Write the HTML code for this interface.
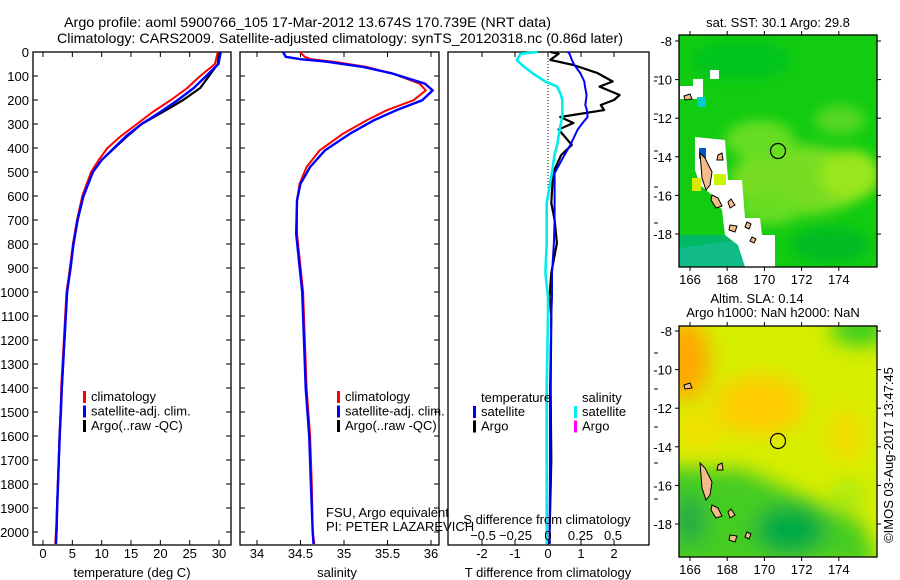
<!DOCTYPE html>
<html><head><meta charset="utf-8"><style>
body{margin:0;background:#fff}
svg{display:block;font-family:"Liberation Sans",Arial,sans-serif}
text{font-size:13px;fill:#000}
</style></head><body>
<svg id="c" width="900" height="580" viewBox="0 0 900 580">
<defs>
<filter id="bl" x="-20%" y="-20%" width="140%" height="140%"><feGaussianBlur stdDeviation="6"/></filter>
<filter id="bl2" x="-20%" y="-20%" width="140%" height="140%"><feGaussianBlur stdDeviation="10"/></filter>
<clipPath id="m1"><rect x="679" y="35" width="198" height="232"/></clipPath>
<clipPath id="m2"><rect x="679" y="326" width="198" height="231"/></clipPath>
</defs>
<text x="64" y="27" textLength="487" lengthAdjust="spacingAndGlyphs" style="font-size:14px">Argo profile: aoml 5900766_105 17-Mar-2012 13.674S 170.739E (NRT data)</text>
<text x="57" y="43" textLength="566" lengthAdjust="spacingAndGlyphs" style="font-size:14px">Climatology: CARS2009. Satellite-adjusted climatology: synTS_20120318.nc (0.86d later)</text>
<g id="p1"></g>
<g id="p2"></g>
<g id="p3"></g>

<g>
<text x="778" y="27" text-anchor="middle">sat. SST: 30.1  Argo: 29.8</text>
<g clip-path="url(#m1)">
<rect x="679" y="35" width="198" height="232" fill="#11cc11"/>
<g filter="url(#bl)">
<ellipse cx="800" cy="180" rx="70" ry="35" fill="#77dd22"/>
<ellipse cx="850" cy="175" rx="30" ry="25" fill="#99e61a"/>
<ellipse cx="760" cy="140" rx="35" ry="20" fill="#66dd22"/>
<ellipse cx="840" cy="120" rx="25" ry="15" fill="#55d822"/>
<ellipse cx="770" cy="210" rx="30" ry="15" fill="#66dd22"/>
<ellipse cx="740" cy="60" rx="50" ry="20" fill="#00c41a"/>
<ellipse cx="830" cy="245" rx="40" ry="18" fill="#00bb22"/>
</g>
<rect x="679" y="235" width="70" height="32" fill="#00b866"/>
<polygon points="679,248 740,240 760,267 679,267" fill="#11bb88"/>
<g fill="#fff">
<rect x="710" y="70" width="9" height="9"/><rect x="693" y="79" width="10" height="20"/><rect x="680" y="86" width="14" height="13"/>
<polygon points="695,137 725,140 728,180 742,180 745,218 760,218 762,235 775,235 775,267 745,267 738,245 725,235 722,210 712,195 700,185 695,170"/>
</g>
<rect x="697" y="97" width="9" height="10" fill="#00cccc"/>
<rect x="699" y="148" width="7" height="11" fill="#0055cc"/>
<rect x="692" y="178" width="9" height="13" fill="#dde800"/>
<rect x="714" y="174" width="12" height="11" fill="#ccf500"/>
<g fill="#f5bb88" stroke="#000" stroke-width="1">
<polygon points="700,153 705,158 712,172 710,185 706,190 702,178"/>
<polygon points="712,195 718,198 722,206 716,208 711,200"/>
<polygon points="728,202 731,199 735,205 730,208"/>
<polygon points="730,225 737,226 735,232 729,230"/>
<polygon points="747,222 751,224 749,229 745,227"/>
<polygon points="752,237 756,239 754,243 750,241"/>
<polygon points="718,155 722,153 723,160 717,160"/>
<polygon points="684,96 690,94 692,99 685,100"/>
</g>
<circle cx="778" cy="151" r="7.5" fill="none" stroke="#000" stroke-width="1.2"/>
</g>
<rect x="679" y="35" width="198" height="232" fill="none" stroke="#000" stroke-width="1.3"/>
<g id="m1ax"></g>
</g>

<g>
<text x="757" y="303" text-anchor="middle">Altim. SLA: 0.14</text>
<text x="773" y="317" text-anchor="middle">Argo h1000: NaN h2000: NaN</text>
<g clip-path="url(#m2)">
<rect x="679" y="326" width="198" height="231" fill="#d6ee00"/>
<g filter="url(#bl2)">
<ellipse cx="685" cy="360" rx="25" ry="40" fill="#ffa800"/>
<ellipse cx="760" cy="405" rx="45" ry="30" fill="#ffcc00"/>
<ellipse cx="845" cy="435" rx="20" ry="28" fill="#f0dd00"/>
<ellipse cx="700" cy="430" rx="25" ry="20" fill="#f0e000"/>
<ellipse cx="860" cy="330" rx="30" ry="15" fill="#33cc22"/>
<polygon points="650,465 745,470 800,495 860,520 880,565 650,575" fill="#44cc22"/>
<ellipse cx="790" cy="530" rx="35" ry="25" fill="#00aa44"/>
<ellipse cx="690" cy="520" rx="15" ry="25" fill="#22aa44"/>
<ellipse cx="848" cy="495" rx="18" ry="14" fill="#aaea11"/>
</g>
<g fill="#f5bb88" stroke="#000" stroke-width="1">
<polygon points="700,463 705,468 712,482 710,495 706,500 702,488"/>
<polygon points="712,505 718,508 722,516 716,518 711,510"/>
<polygon points="728,512 731,509 735,515 730,518"/>
<polygon points="730,535 737,536 735,542 729,540"/>
<polygon points="747,532 751,534 749,539 745,537"/>
<polygon points="718,465 722,463 723,470 717,470"/>
<polygon points="684,385 690,383 692,388 685,389"/>
</g>
<circle cx="778" cy="441" r="7.5" fill="none" stroke="#000" stroke-width="1.2"/>
</g>
<rect x="679" y="326" width="198" height="231" fill="none" stroke="#000" stroke-width="1.3"/>
<g id="m2ax"></g>
</g>
<text transform="translate(893,455) rotate(-90)" text-anchor="middle">©IMOS 03-Aug-2017 13:47:45</text>
</svg>
<script>
// ---- data ----
const depthT = [0,50,100,150,200,250,300,350,400,450,500,600,700,800,900,1000,1400,1500,1600,1700,1800,1900,2000,2050];
const tempClim = [29.8,29.3,26.8,24.6,21.8,18.7,16.0,13.3,11.0,9.5,8.2,6.7,5.8,5.1,4.6,4.0,3.1,3.0,2.8,2.7,2.5,2.4,2.2,2.1];
const tempSat  = [30.3,29.9,27.8,25.7,23.0,20.0,16.8,14.2,12.1,10.0,8.5,6.9,5.9,5.2,4.7,4.1,3.2,3.05,2.85,2.7,2.55,2.4,2.3,2.2];
const tempArgo = [30.0,29.8,28.3,26.8,23.9,20.4,16.8,14.4,12.2,10.0,8.4,6.8,5.9,5.2,4.6,4.1,3.2,3.0,2.85,2.7,2.55,2.4,2.3,2.2];
const depthS = [0,20,30,40,62,90,132,160,201,243,285,340,410,479,549,618,757,896,1000,1400,1600,1800,2000,2050];
const salClim = [34.49,34.55,34.62,34.87,35.26,35.56,35.87,35.94,35.80,35.49,35.26,34.99,34.72,34.57,34.49,34.46,34.46,34.50,34.53,34.57,34.61,34.63,34.64,34.66];
const salSat  = [34.30,34.33,34.50,34.79,35.22,35.56,35.93,36.02,35.90,35.60,35.34,35.07,34.78,34.61,34.50,34.46,34.45,34.49,34.52,34.56,34.60,34.62,34.64,34.65];
const depthD = [0,7,33,54,88,123,144,179,200,221,242,271,296,323,387,429,504,629,700,796,921,1020,1100,1400,1700,2000,2050];
const dTSat  = [0.6,0.65,0.72,0.8,0.98,1.1,1.12,1.17,1.15,1.13,1.18,1.2,1.05,0.9,0.68,0.5,0.2,0.2,0.2,0.18,0.12,0.12,0.1,0.06,0.06,0.05,0.05];
const dTArgo = [0.07,0.32,0.07,0.77,1.5,1.96,1.56,2.17,2.0,1.6,1.7,0.37,0.77,0.32,0.72,0.4,0.15,0.1,0.2,0.27,0.1,0.05,0.1,0.08,0.1,0.05,0.05];
const dSSat  = [-0.08,-0.21,-0.24,-0.2,-0.12,-0.02,0.07,0.1,0.11,0.11,0.11,0.11,0.1,0.09,0.07,0.05,0.03,-0.01,-0.01,-0.01,-0.02,0,0,-0.01,-0.01,-0.01,-0.01];
const depthTicks = [0,100,200,300,400,500,600,700,800,900,1000,1100,1200,1300,1400,1500,1600,1700,1800,1900,2000];
const tempTicks = [0,5,10,15,20,25,30];
const salTicks = [34,34.5,35,35.5,36];
const dTTicks = [-2,-1,0,1,2];
const dSTicks = [-0.5,-0.25,0,0.25,0.5];
const lonTicks = [166,168,170,172,174];
const latTicks = [-8,-10,-12,-14,-16,-18];

const NS='http://www.w3.org/2000/svg';
const yD = d => 52 + d*0.24;
const xT = t => 43 + t*5.867;
const xS = s => 257 + (s-34)*87;
const xdT = v => 548 + v*33;
const xdS = v => 548 + v*130;
const lonX = l => 690 + (l-166)*18.6;
const latY1 = l => 41 + (-8-l)*19.3;
const latY2 = l => 331 + (-8-l)*19.3;

function mk(tag, attrs, parent){const e=document.createElementNS(NS,tag);for(const k in attrs)e.setAttribute(k,attrs[k]);parent.appendChild(e);return e;}
function txt(parent,x,y,s,anchor){const t=mk('text',{x:x,y:y,'text-anchor':anchor||'start'},parent);t.textContent=s;return t;}
function series(parent,xs,ds,xf,color,w,name){
  const p=mk('polyline',{points:xs.map((v,i)=>xf(v).toFixed(1)+','+yD(ds[i]).toFixed(1)).join(' '),fill:'none',stroke:color,'stroke-width':w,'stroke-linejoin':'round'},parent);
  
  
}
function box(parent,x0,x1){mk('rect',{x:x0,y:52,width:x1-x0,height:493,fill:'none',stroke:'#000','stroke-width':1.3},parent);}
function yticks(parent,x0,x1){depthTicks.forEach(d=>{const y=yD(d);mk('line',{x1:x0,y1:y,x2:x0+5,y2:y,stroke:'#000'},parent);mk('line',{x1:x1-5,y1:y,x2:x1,y2:y,stroke:'#000'},parent);});}
function xticks(parent,vals,f,labels){vals.forEach(v=>{const x=f(v);mk('line',{x1:x,y1:545,x2:x,y2:540,stroke:'#000'},parent);mk('line',{x1:x,y1:52,x2:x,y2:57,stroke:'#000'},parent);if(labels){const t=txt(parent,x,558,String(v),'middle');}});}
function legend(parent,x,y,items){items.forEach((it,i)=>{mk('rect',{x:x,y:y+i*14.5-10,width:3,height:12,fill:it[0]},parent);const t=txt(parent,x+8,y+i*14.5,it[1]);});}

const p1=document.getElementById('p1');
box(p1,33,231); yticks(p1,33,231); xticks(p1,tempTicks,xT,true);
depthTicks.forEach(d=>{const t=txt(p1,29,yD(d)+5,String(d),'end');});
series(p1,tempArgo,depthT,xT,'#000',2.2,'temp-argo-line');
series(p1,tempClim,depthT,xT,'#ff0000',2,'temp-climatology-line');
series(p1,tempSat,depthT,xT,'#0000ff',2.4,'temp-satellite-line');
legend(p1,83,401,[['#ff0000','climatology'],['#0000ff','satellite-adj. clim.'],['#000','Argo(..raw -QC)']]);
{const t=txt(p1,132,577,'temperature (deg C)','middle');}

const p2=document.getElementById('p2');
box(p2,240,439); yticks(p2,240,439); xticks(p2,salTicks,xS,true);
series(p2,salClim,depthS,xS,'#ff0000',2,'salinity-climatology-line');
series(p2,salSat,depthS,xS,'#0000ff',2.4,'salinity-satellite-line');
legend(p2,337,401,[['#ff0000','climatology'],['#0000ff','satellite-adj. clim.'],['#000','Argo(..raw -QC)']]);
{const t=txt(p2,337,577,'salinity','middle');}
{const t=txt(p2,326,517,'FSU, Argo equivalent');}
{const t=txt(p2,326,531,'PI: PETER LAZAREVICH');}

const p3=document.getElementById('p3');
box(p3,448,649); xticks(p3,dTTicks,xdT,true);
mk('line',{x1:548,y1:52,x2:548,y2:200,stroke:'#000','stroke-dasharray':'1,2'},p3);
series(p3,dTArgo,depthD,xdT,'#000',2.2,'t-diff-argo-line');
series(p3,dSSat,depthD,xdS,'#00eeee',2.6,'s-diff-satellite-line');
series(p3,dTSat,depthD,xdT,'#0000ff',2,'t-diff-satellite-line');
{const t=txt(p3,481,402,'temperature');}
{const t=txt(p3,582,402,'salinity');}
legend(p3,473,416,[['#0000ff','satellite'],['#000','Argo']]);
legend(p3,574,416,[['#00eeee','satellite'],['#ff00ff','Argo']]);
{const t=txt(p3,547,524,'S difference from climatology','middle');}
dSTicks.forEach(v=>{const t=txt(p3,xdS(v),540,'','middle');t.textContent=(v<0?'\u2212':'')+Math.abs(v);});
{const t=txt(p3,548,577,'T difference from climatology','middle');}
[77,114,151,187,223,353,389,427,463,499].forEach(y=>mk('line',{x1:654,y1:y,x2:658,y2:y,stroke:'#000'},p3));

function mapAxes(id,latY,yTop,yBot){
  const g=document.getElementById(id);
  lonTicks.forEach(l=>{const x=lonX(l);mk('line',{x1:x,y1:yBot,x2:x,y2:yBot+4,stroke:'#000'},g);mk('line',{x1:x,y1:yTop,x2:x,y2:yTop-4,stroke:'#000'},g);const t=txt(g,x,yBot+17,String(l),'middle');});
  latTicks.forEach(l=>{const y=latY(l);mk('line',{x1:675,y1:y,x2:679,y2:y,stroke:'#000'},g);mk('line',{x1:877,y1:y,x2:881,y2:y,stroke:'#000'},g);const t=txt(g,672,y+5,'-'+Math.abs(l),'end');});
}
mapAxes('m1ax',latY1,35,267);
mapAxes('m2ax',latY2,326,557);
</script>
</body></html>
